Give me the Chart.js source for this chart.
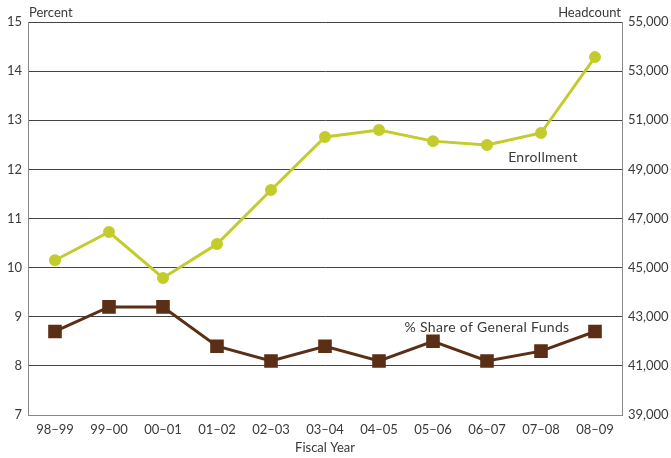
<!DOCTYPE html>
<html>
<head>
<meta charset="utf-8">
<script src="https://cdn.jsdelivr.net/npm/chart.js@4"></script>
<style>
  html, body { margin: 0; padding: 0; background: #fff; }
  #wrap { width: 671px; height: 458px; }
</style>
</head>
<body>
<div id="wrap"><canvas id="graphique"></canvas></div>
<script>
// fiscal years
var years = ['98\u201399', '99\u201300', '00\u201301', '01\u201302', '02\u201303', '03\u201304', '04\u201305', '05\u201306', '06\u201307', '07\u201308', '08\u201309'];
// % share of general funds (left axis)
var shareGF = [8.7, 9.2, 9.2, 8.4, 8.1, 8.4, 8.1, 8.5, 8.1, 8.3, 8.7];
// enrollment headcount (right axis)
var enrollment = [45300, 46450, 44580, 45960, 48160, 50320, 50600, 50150, 49990, 50480, 53570];

var police = 'Lato, "Open Sans", sans-serif';
var gris = '#3a3a3a';

// textes poses sur le graphique
var etiquettes = {
    id: 'etiquettes',
    afterDraw: function(chart) {
        var ctx = chart.ctx;
        var a = chart.chartArea;
        var x = chart.scales.x;
        var y = chart.scales.y;
        var y1 = chart.scales.y1;
        ctx.save();
        ctx.fillStyle = gris;
        ctx.font = '13px ' + police;
        ctx.textBaseline = 'alphabetic';
        ctx.textAlign = 'left';
        ctx.fillText('Percent', a.left + 1, a.top - 5);
        ctx.textAlign = 'right';
        ctx.fillText('Headcount', a.right - 1, a.top - 5);
        // nom des series
        ctx.font = '14px ' + police;
        ctx.letterSpacing = '0.3px';
        ctx.textAlign = 'center';
        ctx.fillText('Enrollment', x.getPixelForValue(9) + 2, y1.getPixelForValue(49300));
        ctx.fillText('% Share of General Funds', x.getPixelForValue(8), y.getPixelForValue(8.69));
        ctx.restore();
    }
};

var ctx = document.getElementById('graphique').getContext('2d');
var graphique = new Chart(ctx, {
    type: 'line',
    data: {
        labels: years,
        datasets: [
            {
                label: 'Enrollment',
                data: enrollment,
                yAxisID: 'y1',
                borderColor: '#c2cc2c',
                backgroundColor: '#c2cc2c',
                borderWidth: 3,
                pointStyle: 'circle',
                pointRadius: 4.5,
                tension: 0
            },
            {
                label: '% Share of General Funds',
                data: shareGF,
                yAxisID: 'y',
                borderColor: '#5a2f16',
                backgroundColor: '#5a2f16',
                borderWidth: 3,
                pointStyle: 'rect',
                pointRadius: 7.5,
                tension: 0
            }
        ]
    },
    options: {
        responsive: true,
        maintainAspectRatio: false,
        animation: false,
        layout: { padding: { top: 22, bottom: 0, left: 0, right: 0 } },
        plugins: {
            legend: { display: false },
            tooltip: { enabled: false }
        },
        scales: {
            x: {
                offset: true,
                grid: { display: false, drawTicks: false },
                border: { display: true, color: '#888', width: 1 },
                ticks: { color: gris, font: { family: police, size: 13 }, padding: 7, maxRotation: 0 },
                title: { display: true, text: 'Fiscal Year', color: gris, font: { family: police, size: 13 }, padding: { top: 2, bottom: 2 } },
                afterFit: function(s) { s.height = 43; }
            },
            y: {
                position: 'left',
                min: 7,
                max: 15,
                ticks: { stepSize: 1, color: gris, font: { family: police, size: 13 }, padding: 6 },
                grid: { color: '#444', lineWidth: 1, drawTicks: false },
                border: { display: true, color: '#888', width: 1 },
                afterFit: function(s) { s.width = 28; }
            },
            y1: {
                position: 'right',
                min: 39000,
                max: 55000,
                ticks: {
                    stepSize: 2000,
                    color: gris,
                    font: { family: police, size: 13 },
                    padding: 6,
                    callback: function(v) { return v.toLocaleString('en-US'); }
                },
                grid: { display: false, drawTicks: false },
                border: { display: true, color: '#888', width: 1 },
                afterFit: function(s) { s.width = 49; }
            }
        }
    },
    plugins: [etiquettes]
});
</script>
</body>
</html>
